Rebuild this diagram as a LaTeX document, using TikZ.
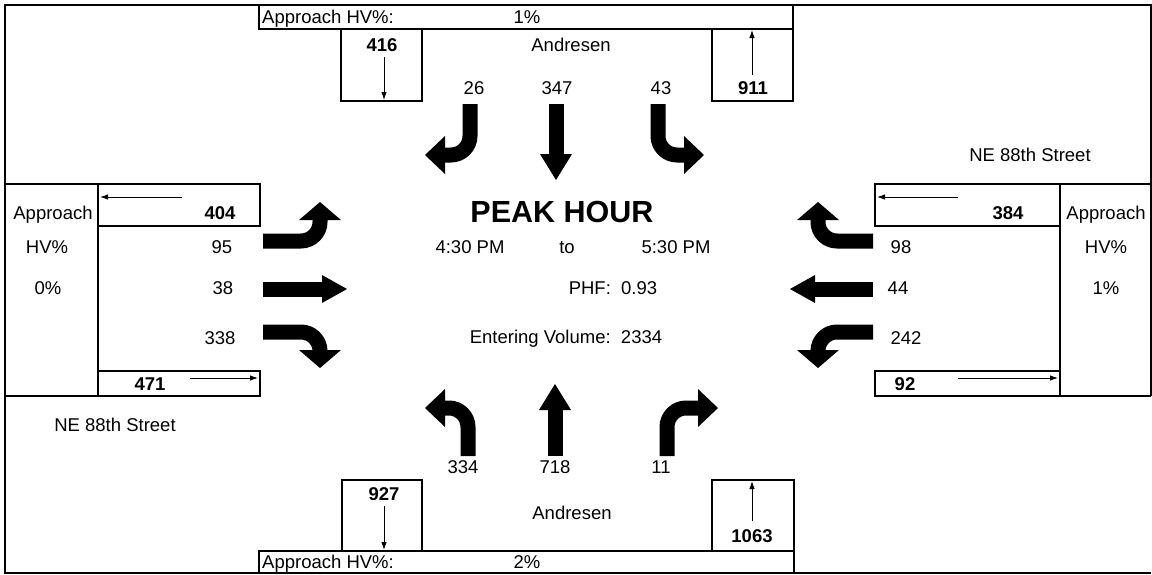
\documentclass[tikz,border=0pt]{standalone}
\usepackage{fontspec}
\setmainfont{Liberation Sans}
\usetikzlibrary{arrows.meta}
\begin{document}
\begin{tikzpicture}[x=1pt,y=-1pt,
  lbl/.style={font=\fontsize{18.5}{21}\selectfont, inner sep=0pt, text height=13.2pt, text depth=0pt},
  bnum/.style={lbl, font=\fontsize{18.5}{21}\selectfont\bfseries},
  title/.style={font=\fontsize{30.5}{34}\selectfont\bfseries, inner sep=0pt, text height=22pt, text depth=0pt},
  boxln/.style={draw=black, line width=1.2pt},
  frameln/.style={draw=black, line width=2.4pt},
  conn/.style={draw=black, line width=0.9pt, -{Latex[length=8pt,width=5.5pt]}},
  shaftln/.style={draw=black, line width=15pt, rounded corners=19pt},
  headfill/.style={fill=black},
]
\useasboundingbox (0,0) rectangle (1152,574);
% outer frame
\draw[frameln] (1151,396) -- (1151,5) -- (5,5) -- (5,573) -- (1151,573);

% ---------- top (Andresen, southbound) ----------
\draw[boxln] (259,5) rectangle (793,29);
\node[lbl, anchor=west] (tophvl) at (262,17) {Approach HV\%:};
\node[lbl] (tophv) at (527,17) {1\%};
\draw[boxln] (341,29) rectangle (422,101);
\draw[boxln] (712,29) rectangle (793,101);
\node[bnum] (n416) at (382,45) {416};
\node[bnum] (n911) at (753,88) {911};
\coordinate (a416s) at (384,57);
\coordinate (a416e) at (384,100);
\draw[conn] (a416s) -- (a416e);
\coordinate (a911s) at (752,75);
\coordinate (a911e) at (752,30);
\draw[conn] (a911s) -- (a911e);
\node[lbl] (andtop) at (571,45) {Andresen};
\node[lbl] (sbl) at (474,88) {26};
\node[lbl] (sbt) at (557,88) {347};
\node[lbl] (sbr) at (661,88) {43};
% SB arrows
\draw[shaftln] (470,104) -- (470,155) -- (444,155);
\fill[headfill] (445,136) -- (425,155) -- (445,174) -- cycle;
\draw[shaftln] (556,104) -- (556,155);
\fill[headfill] (540,154) -- (556,180) -- (572,154) -- cycle;
\draw[shaftln] (658,104) -- (658,155) -- (685,155);
\fill[headfill] (684,136) -- (704,155) -- (684,174) -- cycle;

% ---------- left (NE 88th Street, eastbound) ----------
\draw[boxln] (5,184) -- (98,184);
\draw[boxln] (98,184) rectangle (260,226);
\draw[boxln] (98,226) -- (98,396);
\draw[boxln] (98,371) rectangle (260,396);
\draw[boxln] (5,396) -- (98,396);
\node[lbl] (lap) at (53,213) {Approach};
\node[lbl] (lhv) at (47,247) {HV\%};
\node[lbl] (lpc) at (48,288) {0\%};
\node[bnum] (n404) at (220,213) {404};
\coordinate (a404s) at (182,197);
\coordinate (a404e) at (100,197);
\draw[conn] (a404s) -- (a404e);
\node[lbl] (ebl) at (222,247) {95};
\node[lbl] (ebt) at (223,288) {38};
\node[lbl] (ebr) at (220,338) {338};
\node[bnum] (n471) at (150,384) {471};
\coordinate (a471s) at (190,378);
\coordinate (a471e) at (258,378);
\draw[conn] (a471s) -- (a471e);
\node[lbl] (lstreet) at (115,425) {NE 88th Street};
% EB arrows
\draw[shaftln] (263,241) -- (320,241) -- (320,218);
\fill[headfill] (299,220) -- (320,202) -- (341,220) -- cycle;
\draw[shaftln] (263,289) -- (323,289);
\fill[headfill] (322,275) -- (347,289) -- (322,303) -- cycle;
\draw[shaftln] (263,332) -- (320,332) -- (320,352);
\fill[headfill] (299,350) -- (320,368) -- (341,350) -- cycle;

% ---------- right (NE 88th Street, westbound) ----------
\draw[boxln] (875,184) rectangle (1060,226);
\draw[boxln] (1060,184) -- (1151,184);
\draw[boxln] (1060,226) -- (1060,396);
\draw[boxln] (875,371) rectangle (1060,396);
\draw[boxln] (1060,396) -- (1151,396);
\node[lbl] (rap) at (1106,213) {Approach};
\node[lbl] (rhv) at (1106,247) {HV\%};
\node[lbl] (rpc) at (1106,288) {1\%};
\node[bnum] (n384) at (1008,213) {384};
\coordinate (a384s) at (958,197);
\coordinate (a384e) at (877,197);
\draw[conn] (a384s) -- (a384e);
\node[lbl] (wbr) at (901,247) {98};
\node[lbl] (wbt) at (898,288) {44};
\node[lbl] (wbl) at (906,338) {242};
\node[bnum] (n92) at (905,384) {92};
\coordinate (a92s) at (958,378);
\coordinate (a92e) at (1058,378);
\draw[conn] (a92s) -- (a92e);
\node[lbl] (rstreet) at (1030,155) {NE 88th Street};
% WB arrows
\draw[shaftln] (873,241) -- (818,241) -- (818,218);
\fill[headfill] (797,220) -- (818,202) -- (839,220) -- cycle;
\draw[shaftln] (873,289) -- (814,289);
\fill[headfill] (815,275) -- (790,289) -- (815,303) -- cycle;
\draw[shaftln] (873,332) -- (818,332) -- (818,352);
\fill[headfill] (797,350) -- (818,368) -- (839,350) -- cycle;

% ---------- centre ----------
\node[title] (peak) at (562,211) {PEAK HOUR};
\node[lbl] (tfrom) at (470,247) {4:30 PM};
\node[lbl] (tto) at (567,247) {to};
\node[lbl] (tend) at (676,247) {5:30 PM};
\node[lbl] (phf) at (613,288) {PHF:\ \ 0.93};
\node[lbl] (vol) at (566,337) {Entering Volume:\ \ 2334};

% ---------- bottom (Andresen, northbound) ----------
\node[lbl] (nbl) at (463,467) {334};
\node[lbl] (nbt) at (555,467) {718};
\node[lbl] (nbr) at (661,467) {11};
\draw[shaftln] (468,456) -- (468,408) -- (444,408);
\fill[headfill] (445,389) -- (425,408) -- (445,427) -- cycle;
\draw[shaftln] (555,456) -- (555,409);
\fill[headfill] (539,410) -- (555,384) -- (571,410) -- cycle;
\draw[shaftln] (667,456) -- (667,408) -- (699,408);
\fill[headfill] (698,389) -- (718,408) -- (698,427) -- cycle;
\draw[boxln] (342,480) rectangle (422,551);
\draw[boxln] (712,480) rectangle (794,551);
\node[bnum] (n927) at (384,494) {927};
\node[bnum] (n1063) at (752,536) {1063};
\coordinate (a927s) at (384,506);
\coordinate (a927e) at (384,550);
\draw[conn] (a927s) -- (a927e);
\coordinate (a1063s) at (752,521);
\coordinate (a1063e) at (752,481);
\draw[conn] (a1063s) -- (a1063e);
\node[lbl] (andbot) at (572,513) {Andresen};
\draw[boxln] (259,551) rectangle (794,573);
\node[lbl, anchor=west] (bothvl) at (262,562) {Approach HV\%:};
\node[lbl] (bothv) at (527,562) {2\%};
\end{tikzpicture}
\end{document}
